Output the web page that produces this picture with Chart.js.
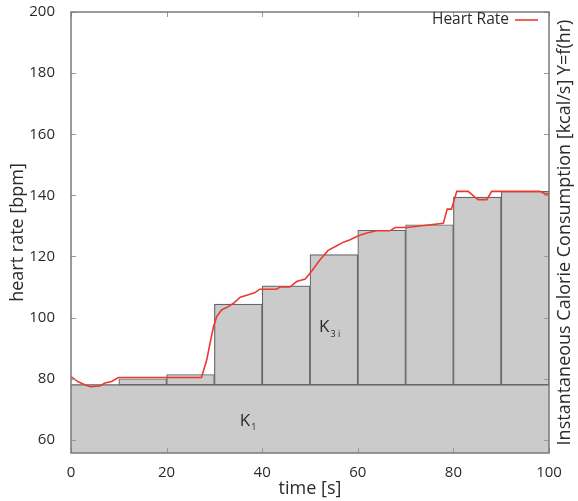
<!DOCTYPE html>
<html>
<head>
<meta charset="utf-8">
<script src="https://cdn.jsdelivr.net/npm/chart.js@4.4.1/dist/chart.umd.min.js"></script>
<style>
  html, body { margin: 0; padding: 0; background: #fff; }
  #wrap { width: 578px; height: 501px; }
</style>
</head>
<body>
<div id="wrap"><canvas id="c" width="578" height="501"></canvas></div>
<script>
// Calorie bins: each 10 s interval sits on the constant K1 level
const binStarts = [0, 10, 20, 30, 40, 50, 60, 70, 80, 90];
const binWidth = 10;
const binLevels = [78, 80, 81.4, 104.4, 110.4, 120.6, 128.6, 130.4, 139.4, 141.3];
const baseLevel = 78; // K1

// Heart rate trace
const hrTime  = [0, 1.5, 2.9, 4, 6, 7.1, 8.5, 9.9,
                 27.3, 28.4, 29.1, 29.8, 30.5, 31.5, 32.9, 34, 35.4, 37.1, 38.5, 39.5,
                 43, 43.7, 45.8, 47.2, 49,
                 50.3, 52.1, 53.8, 55.6, 57, 58.4, 60.1, 61.9, 63.9, 66.7, 67.8, 70.2,
                 77.9, 78.7, 79.6, 80.7, 83.1, 84.5, 85.2, 87, 88, 98.1, 99.2, 100];
const hrValue = [80.7, 79.0, 78.0, 77.4, 77.6, 78.6, 79.1, 80.4,
                 80.4, 86.2, 91.7, 97, 100.4, 102.5, 103.6, 104.7, 106.7, 107.5, 108.2, 109.3,
                 109.3, 110, 110, 111.8, 112.6,
                 115.1, 118.9, 122, 123.5, 124.7, 125.5, 126.8, 127.7, 128.4, 128.4, 129.5, 129.5,
                 130.9, 135.5, 135.5, 141.3, 141.3, 139.4, 138.6, 138.6, 141.3, 141.3, 140.5, 140.5];

const xTicks = [0, 20, 40, 60, 80, 100];
const yTicks = [60, 80, 100, 120, 140, 160, 180, 200];

const FONT = "'Open Sans', 'DejaVu Sans', sans-serif";
const TEXT = '#2b2b2b';
const FILL = '#cbcbcb';
const EDGE = '#666666';
const RED = '#ec3a30';

// Frame, mirrored inward ticks, legend, right-hand title and K labels
const decorations = {
  id: 'decorations',
  afterDatasetsDraw(chart) {
    const { ctx, chartArea: a, scales: { x, y } } = chart;
    ctx.save();
    ctx.strokeStyle = '#9a9a9a';
    ctx.lineWidth = 1;
    const t = 5;
    ctx.beginPath();
    yTicks.forEach(v => {
      const py = Math.round(y.getPixelForValue(v)) + 0.5;
      ctx.moveTo(a.left, py); ctx.lineTo(a.left + t, py);
      ctx.moveTo(a.right, py); ctx.lineTo(a.right - t, py);
    });
    xTicks.forEach(v => {
      const px = Math.round(x.getPixelForValue(v)) + 0.5;
      ctx.moveTo(px, a.bottom); ctx.lineTo(px, a.bottom - t);
      ctx.moveTo(px, a.top); ctx.lineTo(px, a.top + t);
    });
    ctx.stroke();
    ctx.strokeStyle = '#7a7a7a';
    ctx.lineWidth = 1.5;
    ctx.strokeRect(a.left, a.top, a.right - a.left, a.bottom - a.top);
    ctx.restore();
  },
  afterDraw(chart) {
    const { ctx, chartArea: a, scales: { x, y } } = chart;
    ctx.save();
    ctx.fillStyle = TEXT;

    // legend
    ctx.font = `15.5px ${FONT}`;
    ctx.textAlign = 'right';
    ctx.textBaseline = 'middle';
    ctx.fillText('Heart Rate', a.right - 40, a.top + 8);
    ctx.strokeStyle = RED;
    ctx.lineWidth = 1.6;
    ctx.beginPath();
    ctx.moveTo(a.right - 34, a.top + 8);
    ctx.lineTo(a.right - 11, a.top + 8);
    ctx.stroke();

    // right-hand axis title
    ctx.save();
    ctx.translate(565, (a.top + a.bottom) / 2);
    ctx.rotate(-Math.PI / 2);
    ctx.textAlign = 'center';
    ctx.textBaseline = 'middle';
    ctx.font = `18px ${FONT}`;
    ctx.fillText('Instantaneous Calorie Consumption [kcal/s] Y=f(hr)', 0, 0);
    ctx.restore();

    // K labels with subscripts
    const label = (main, sub, xv, yv) => {
      const px = x.getPixelForValue(xv), py = y.getPixelForValue(yv);
      ctx.font = `17px ${FONT}`;
      ctx.textAlign = 'left';
      ctx.textBaseline = 'middle';
      ctx.fillText(main, px, py);
      const w = ctx.measureText(main).width;
      ctx.font = `9px ${FONT}`;
      ctx.fillText(sub, px + w + 1, py + 7);
    };
    label('K', '1', 35.3, 66.2);
    label('K', '3 i', 51.9, 96.8);
    ctx.restore();
  }
};

new Chart(document.getElementById('c'), {
  type: 'bar',
  data: {
    datasets: [
      {
        type: 'line',
        label: 'Heart Rate',
        data: hrTime.map((t, i) => ({ x: t, y: hrValue[i] })),
        borderColor: RED,
        borderWidth: 1.6,
        pointRadius: 0,
        tension: 0,
        fill: false,
        order: 1
      },
      {
        label: 'K3i',
        data: binStarts.map((s, i) => ({ x: s + binWidth / 2, y: [baseLevel, binLevels[i]] })),
        backgroundColor: FILL,
        borderColor: EDGE,
        borderWidth: 1.2,
        borderSkipped: false,
        categoryPercentage: 1,
        barPercentage: 1,
        grouped: false,
        order: 2
      },
      {
        type: 'line',
        label: 'K1',
        data: [{ x: 0, y: baseLevel }, { x: 100, y: baseLevel }],
        backgroundColor: FILL,
        borderColor: EDGE,
        borderWidth: 1.2,
        pointRadius: 0,
        fill: 'start',
        order: 3
      }
    ]
  },
  options: {
    responsive: false,
    animation: false,
    layout: { padding: { top: 12, right: 29, left: 0, bottom: 0 } },
    plugins: { legend: { display: false }, tooltip: { enabled: false } },
    scales: {
      x: {
        type: 'linear',
        min: 0, max: 100,
        offset: false,
        grid: { display: false },
        border: { display: false },
        ticks: { color: TEXT, font: { family: FONT, size: 15 }, padding: 3, maxRotation: 0 },
        title: { display: true, text: 'time [s]', color: TEXT, font: { family: FONT, size: 18 }, padding: { top: 0, bottom: 1 } },
        afterBuildTicks(s) { s.ticks = xTicks.map(v => ({ value: v })); },
        afterFit(s) { s.height = 48; s.paddingLeft = 0; s.paddingRight = 0; }
      },
      y: {
        type: 'linear',
        min: 55.7, max: 200,
        grid: { display: false },
        border: { display: false },
        ticks: { color: TEXT, font: { family: FONT, size: 15 }, padding: 8 },
        title: { display: true, text: 'heart rate [bpm]', color: TEXT, font: { family: FONT, size: 18 }, padding: { top: 7, bottom: 0 } },
        afterBuildTicks(s) { s.ticks = yTicks.map(v => ({ value: v })); },
        afterFit(s) { s.width = 71; s.paddingTop = 0; s.paddingBottom = 0; }
      }
    }
  },
  plugins: [decorations]
});
</script>
</body>
</html>
